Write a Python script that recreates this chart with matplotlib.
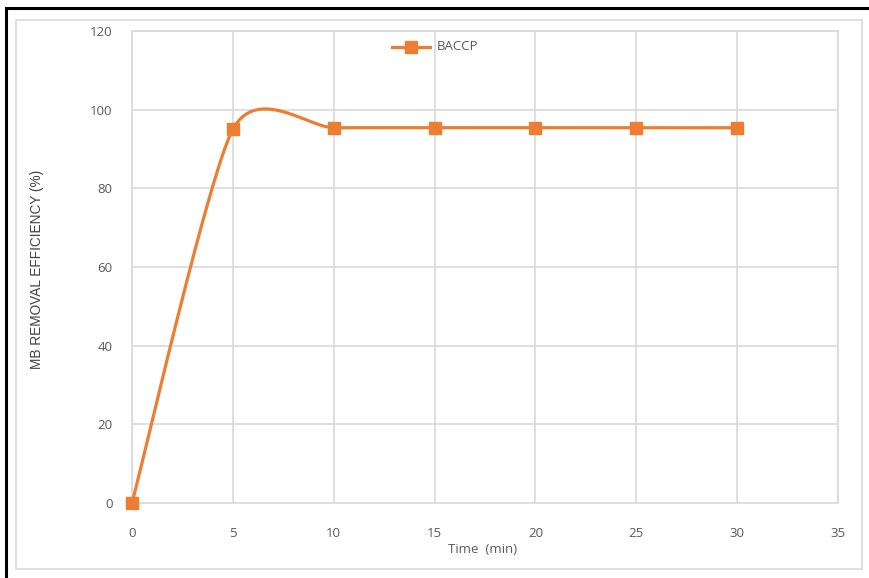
import numpy as np
import matplotlib.pyplot as plt
from matplotlib.patches import Rectangle

time_min = [0, 5, 10, 15, 20, 25, 30]
removal = [0, 95, 95.4, 95.4, 95.4, 95.4, 95.4]
series_name = "BACCP"

ORANGE = "#ED7D31"
TXT = "#595959"
GRID = "#D9D9D9"


def smooth(x, y, f=0.12, n=40):
    # Excel-like smoothed line: cubic Bezier between points
    x = np.asarray(x, float)
    y = np.asarray(y, float)
    px = np.concatenate([[x[0]], x, [x[-1]]])
    py = np.concatenate([[y[0]], y, [y[-1]]])
    xs, ys = [], []
    t = np.linspace(0, 1, n)
    for i in range(len(x) - 1):
        p0 = np.array([px[i + 1], py[i + 1]])
        p3 = np.array([px[i + 2], py[i + 2]])
        p1 = p0 + f * (np.array([px[i + 2], py[i + 2]]) - np.array([px[i], py[i]]))
        p2 = p3 - f * (np.array([px[i + 3], py[i + 3]]) - np.array([px[i + 1], py[i + 1]]))
        b = ((1 - t) ** 3)[:, None] * p0 + (3 * (1 - t) ** 2 * t)[:, None] * p1 \
            + (3 * (1 - t) * t ** 2)[:, None] * p2 + (t ** 3)[:, None] * p3
        xs.append(b[:, 0])
        ys.append(b[:, 1])
    return np.concatenate(xs), np.concatenate(ys)


plt.rcParams['font.family'] = ['Open Sans', 'DejaVu Sans']

fig = plt.figure(figsize=(8.69, 5.78), dpi=100)
ax = fig.add_axes([132 / 869, 1 - 503 / 578, 706 / 869, 472 / 578])

sx, sy = smooth(time_min, removal)
ax.plot(sx, sy, color=ORANGE, lw=2.3, zorder=3, clip_on=False)
ax.plot(time_min, removal, ls='none', marker='s', ms=9, color=ORANGE,
        zorder=4, clip_on=False)

ax.set_xlim(0, 35)
ax.set_ylim(0, 120)
ax.set_xticks(range(0, 36, 5))
ax.set_yticks(range(0, 121, 20))
ax.grid(True, color=GRID, lw=1.2)
ax.set_axisbelow(True)
for s in ax.spines.values():
    s.set_color(GRID)
    s.set_linewidth(1.2)
ax.tick_params(length=0, labelsize=9.5, labelcolor=TXT)
ax.tick_params(axis='y', pad=14)
ax.tick_params(axis='x', pad=17)

ax.set_xlabel("Time  (min)", fontsize=9.5, color=TXT)
ax.xaxis.set_label_coords(0.497, -0.085)
ax.set_ylabel("MB REMOVAL EFFICIENCY (%)", fontsize=9.8, color="#404040",
              family=['Liberation Sans Narrow', 'Liberation Sans'])
ax.yaxis.set_label_coords(-0.134, 0.496)
ax.yaxis.label.set_va('center')

# legend
fig.lines.append(plt.Line2D([392 / 869, 430 / 869], [1 - 47 / 578] * 2,
                            transform=fig.transFigure, color=ORANGE, lw=2.3))
fig.lines.append(plt.Line2D([411 / 869], [1 - 47 / 578], transform=fig.transFigure,
                            marker='s', ms=9, color=ORANGE, ls='none'))
fig.text(437 / 869, 1 - 47 / 578, series_name, fontsize=9.5, color=TXT,
         va='center', ha='left')

# borders
fig.patches.append(Rectangle((16 / 869, 1 - 569 / 578), 846 / 869, 549 / 578,
                             transform=fig.transFigure, fill=False,
                             edgecolor=GRID, lw=1.2))
fig.patches.append(Rectangle((6 / 869, -0.01), 870 / 869, (578 - 8) / 578 + 0.01,
                             transform=fig.transFigure, fill=False,
                             edgecolor='black', lw=2.2))

fig.savefig("out.png", dpi=100)
